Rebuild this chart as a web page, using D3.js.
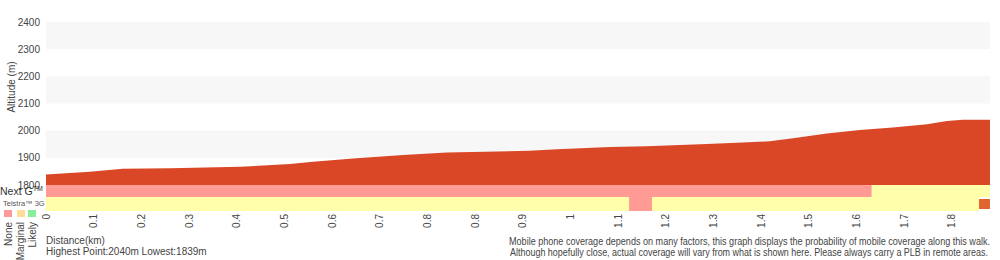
<!DOCTYPE html>
<html>
<head>
<meta charset="utf-8">
<script src="https://cdn.jsdelivr.net/npm/d3@7"></script>
<style>
  body { margin: 0; background: #fff; }
  text { font-family: "Liberation Sans", Helvetica, Arial, sans-serif; fill: #333; }
</style>
</head>
<body>
<svg id="chart" width="1000" height="260"></svg>
<script>
// tick labels along the walk (one per sample group)
const tickLabels = ["0", "0.1", "0.2", "0.3", "0.4", "0.5", "0.6", "0.7", "0.8", "0.8",
  "0.9", "1", "1.1", "1.2", "1.3", "1.4", "1.5", "1.6", "1.7", "1.8"];
const altTicks = [1800, 1900, 2000, 2100, 2200, 2300, 2400];

// elevation profile, position in tick units
const profilePos = [0, 0.92, 1.61, 2.6, 4.07, 5.12, 5.6, 6.44, 7.49, 8.41, 10.15, 10.72, 11.83,
  12.6, 13.86, 14.62, 15.18, 15.67, 16.38, 17.07, 17.76, 18.48, 18.9, 19.23, 19.8];
const profileAlt = [1839, 1849, 1860, 1862, 1867, 1877, 1886, 1898, 1910, 1920, 1926, 1932, 1940,
  1943, 1951, 1956, 1961, 1972, 1990, 2002, 2012, 2024, 2036, 2040, 2040];

// coverage segments [from, to, level]
const nextG = [[0, 17.32, "none"], [17.32, 19.8, "marginal"]];
const threeG = [[0, 12.23, "marginal"], [12.23, 12.71, "none"], [12.71, 19.57, "marginal"], [19.57, 19.8, "end"]];
const levels = ["None", "Marginal", "Likely"];

const svg = d3.select("#chart");
const x = d3.scaleLinear().domain([0, 19.8]).range([46, 990]);
const y = d3.scaleLinear().domain([1800, 2400]).range([185, 22]);

// alternating stripes
svg.selectAll(".stripe")
  .data([[2300, 2400], [2100, 2200], [1900, 2000]])
  .enter().append("rect")
  .attr("x", x(0)).attr("width", x(19.8) - x(0))
  .attr("y", d => y(d[1])).attr("height", d => y(d[0]) - y(d[1]))
  .attr("fill", "#f7f7f7");

svg.append("g").selectAll("text")
  .data(altTicks).enter().append("text")
  .attr("x", 40).attr("y", d => y(d) + 3.5)
  .attr("text-anchor", "end").style("font-size", "10px").style("fill", "#444")
  .text(d => d);

svg.append("text")
  .attr("transform", "translate(15,87) rotate(-90)")
  .attr("text-anchor", "middle").style("font-size", "10px").style("fill", "#444")
  .text("Altitude (m)");

const pts = profilePos.map((p, i) => [p, profileAlt[i]]);
svg.append("path")
  .datum(pts)
  .attr("fill", "#da4726")
  .attr("d", d3.area().x(d => x(d[0])).y0(y(1800)).y1(d => y(d[1])));

const covColor = { none: "#ff9a94", marginal: "#ffffaa", likely: "#88ee99", end: "#e0662f" };

svg.selectAll(".ng").data(nextG).enter().append("rect")
  .attr("x", d => x(d[0])).attr("width", d => x(d[1]) - x(d[0]))
  .attr("y", 185).attr("height", 12)
  .attr("fill", d => covColor[d[2]]);

svg.selectAll(".tg").data(threeG).enter().append("rect")
  .attr("x", d => x(d[0])).attr("width", d => x(d[1]) - x(d[0]))
  .attr("y", d => d[2] === "end" ? 199 : 197).attr("height", d => d[2] === "end" ? 10 : 14)
  .attr("fill", d => covColor[d[2]]);

// x tick labels, rotated
svg.append("g").selectAll("text")
  .data(tickLabels).enter().append("text")
  .attr("transform", (d, i) => `translate(${x(i) + 3.5},214) rotate(-90)`)
  .attr("text-anchor", "end").style("font-size", "10px").style("fill", "#444")
  .text(d => d);

// legend
svg.append("text").attr("x", 0).attr("y", 195).style("font-size", "10.5px").style("fill", "#333")
  .html("Next G<tspan dy='-4' style='font-size:7px'>TM</tspan>");
svg.append("text").attr("x", 3).attr("y", 206).style("font-size", "7.5px").style("fill", "#555")
  .text("Telstra\u2122 3G");
const swatch = ["#ff9a9a", "#ffdd99", "#88ee99"];
svg.selectAll(".sw").data(levels).enter().append("rect")
  .attr("x", (d, i) => [4, 17, 28][i]).attr("y", 210).attr("width", 8).attr("height", 7)
  .attr("fill", (d, i) => swatch[i]);
svg.selectAll(".swl").data(levels).enter().append("text")
  .attr("transform", (d, i) => `translate(${[12, 24, 36][i]},222) rotate(-90)`)
  .attr("text-anchor", "end").style("font-size", "10px").style("fill", "#444")
  .text(d => d);

svg.append("text").attr("x", 46).attr("y", 244).style("font-size", "10px").style("fill", "#444")
  .text("Distance(km)");
svg.append("text").attr("x", 46).attr("y", 255).style("font-size", "10px").style("fill", "#444")
  .text("Highest Point:2040m Lowest:1839m");
svg.append("text").attr("x", 990).attr("y", 245).attr("text-anchor", "end")
  .style("font-size", "10px").style("fill", "#444")
  .attr("textLength", 481).attr("lengthAdjust", "spacingAndGlyphs")
  .text("Mobile phone coverage depends on many factors, this graph displays the probability of mobile coverage along this walk.");
svg.append("text").attr("x", 988).attr("y", 256).attr("text-anchor", "end")
  .style("font-size", "10px").style("fill", "#444")
  .attr("textLength", 478).attr("lengthAdjust", "spacingAndGlyphs")
  .text("Although hopefully close, actual coverage will vary from what is shown here. Please always carry a PLB in remote areas.");
</script>
</body>
</html>
